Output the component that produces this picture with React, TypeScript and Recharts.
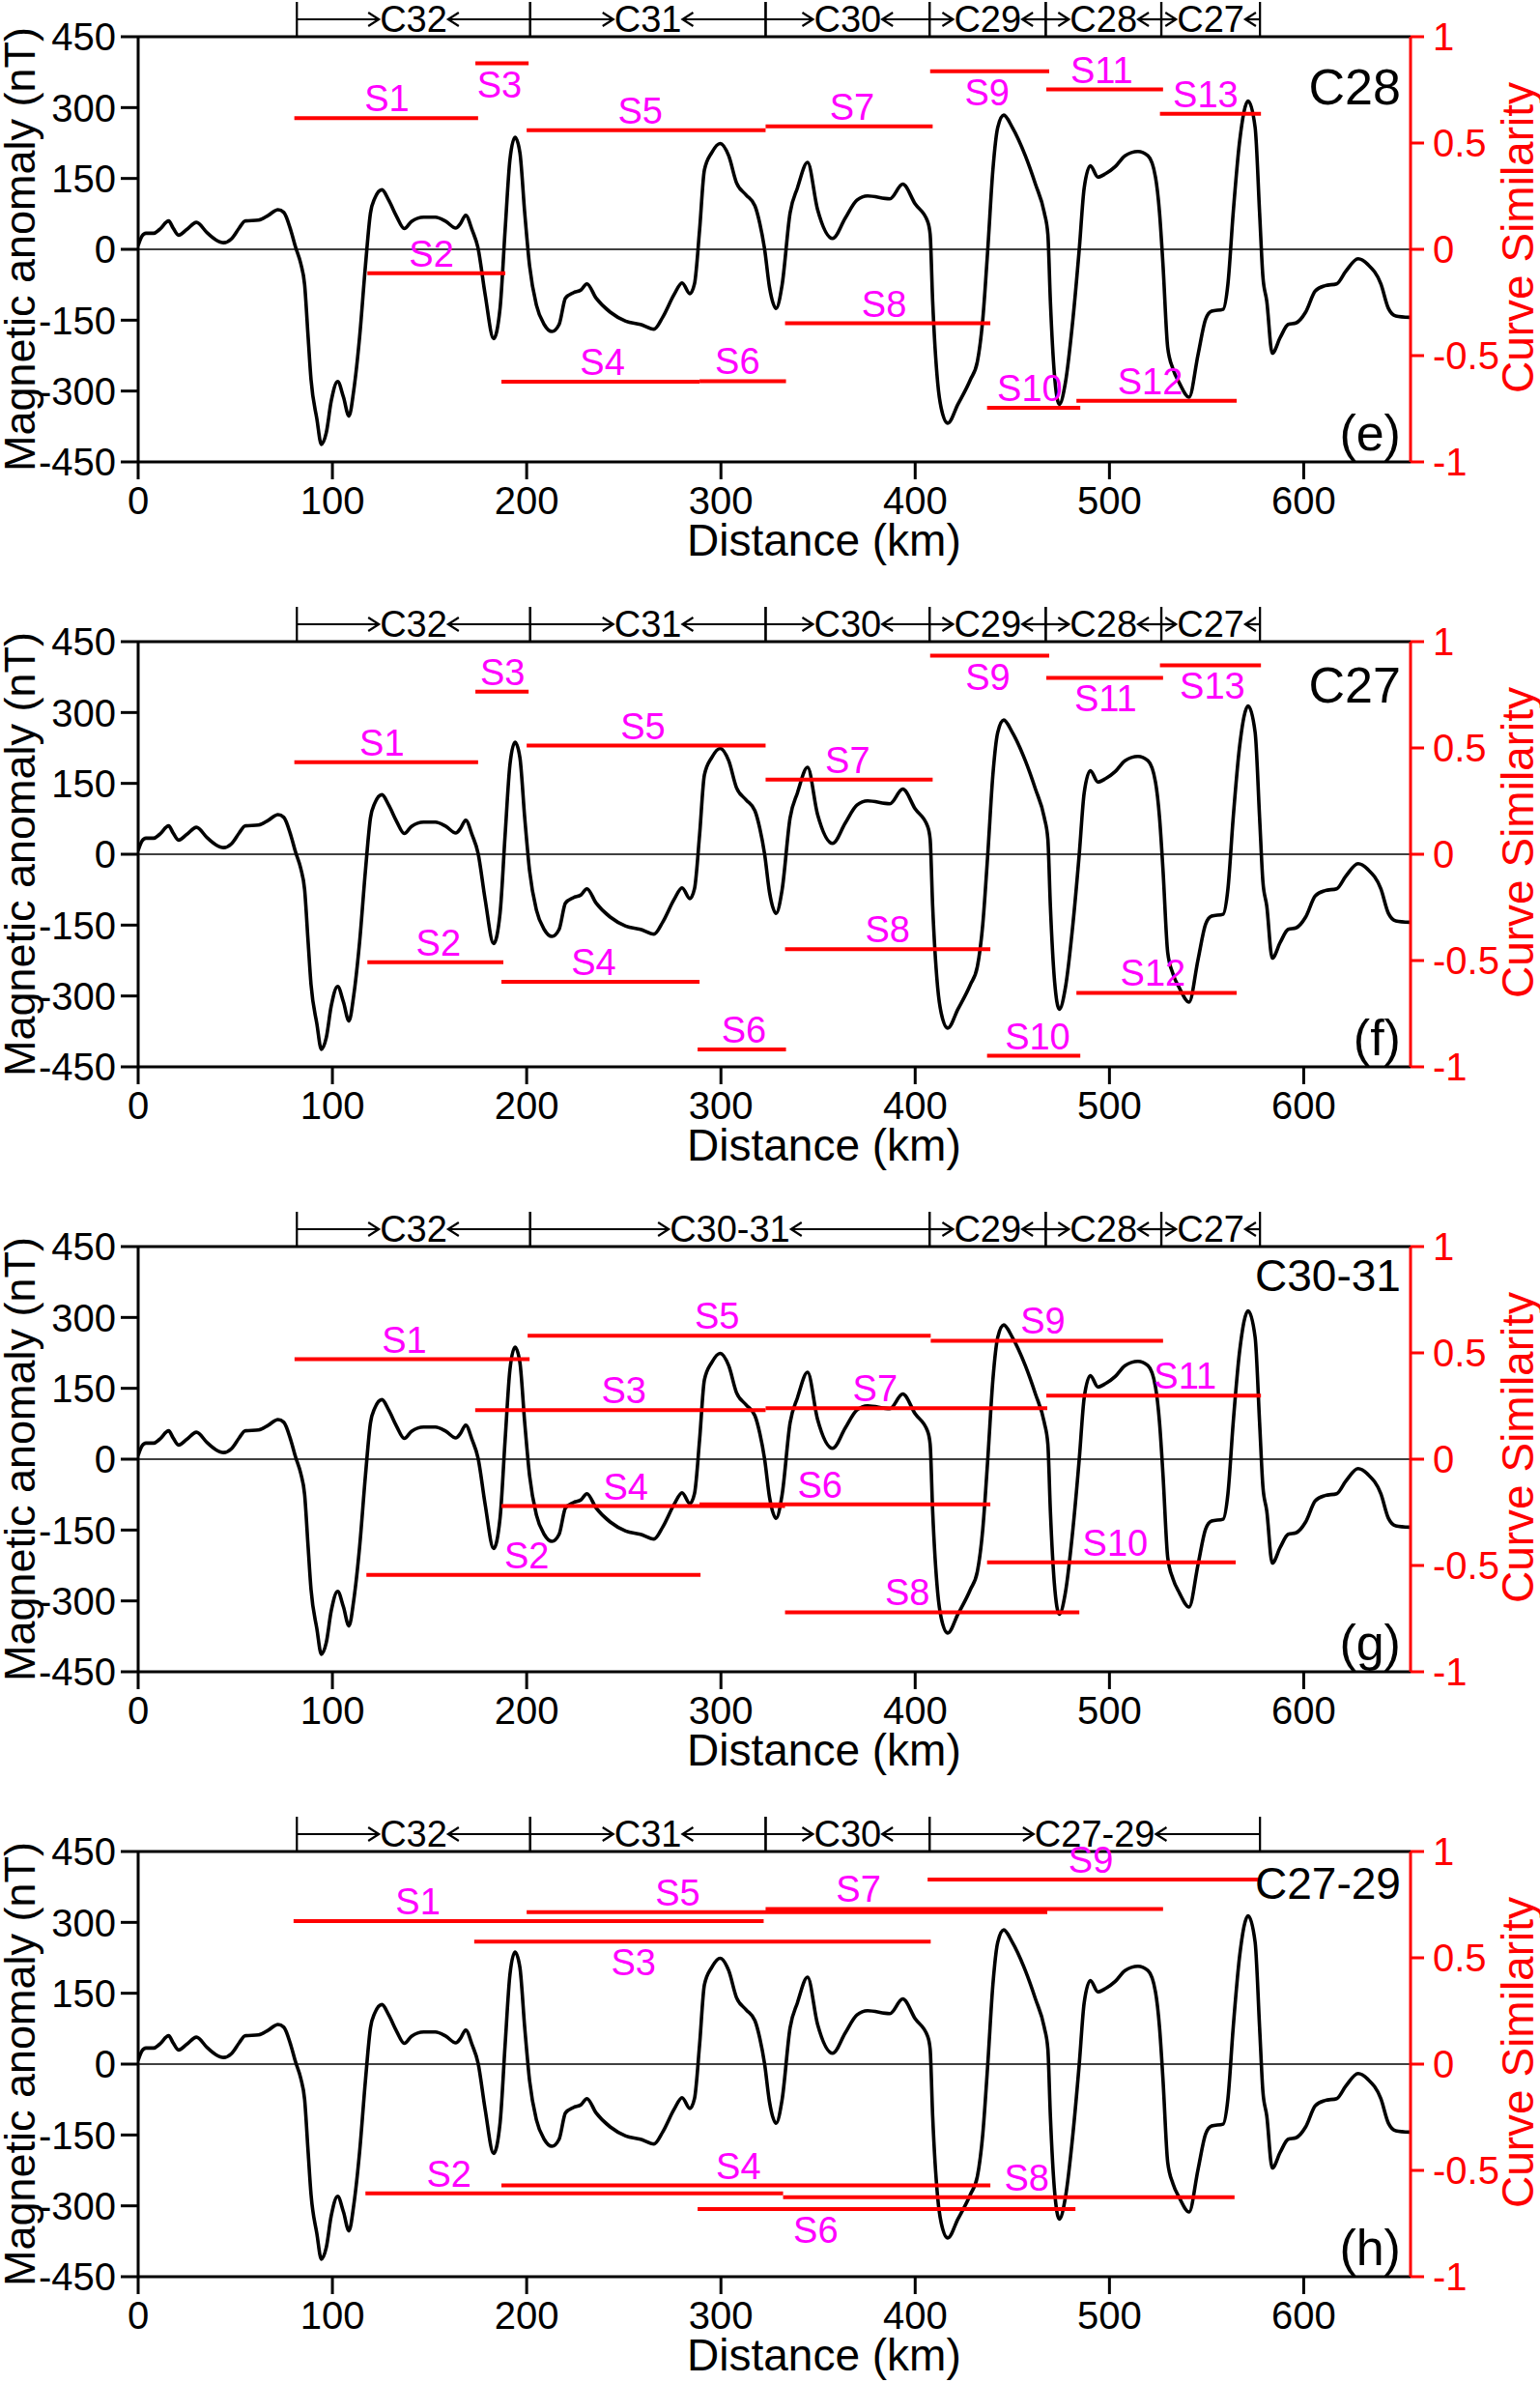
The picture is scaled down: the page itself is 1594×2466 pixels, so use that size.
import React from 'react';
import { ComposedChart, Line, XAxis, YAxis, ReferenceLine, ReferenceDot, Label } from 'recharts';

const FONT = '"Liberation Sans", Arial, Helvetica, sans-serif';

// Magnetic anomaly profile: [distance km, anomaly nT]
const anomalyProfile: [number, number][] = [
  [0, 8], [2, 28], [4, 34], [8, 34], [11, 42], [15.7, 60], [18, 45], [20.8, 30], [25, 42], [30, 57],
  [35.5, 35], [40, 20], [44, 14], [48, 22], [52, 45], [55, 60], [62, 62], [67, 72], [72, 84], [75, 78],
  [78.6, 40], [81, 5], [83.7, -30], [85.7, -75], [87.5, -186], [89, -276], [92, -359], [94.3, -413],
  [96.8, -389], [99.4, -321], [102.7, -280], [105.7, -313], [108.5, -353], [111, -298], [114, -186],
  [117, -35], [119.6, 77], [121.7, 107], [125.5, 126], [129, 104], [133, 70], [137, 44], [140.7, 59],
  [147, 68], [153, 68], [158.4, 59], [163.5, 45], [166, 55], [168.6, 72], [172, 40], [175, 2],
  [178.6, -95], [183, -189], [186.3, -125], [188.9, 40], [191.4, 190], [194, 237], [196.5, 205],
  [199, 77], [201.5, -35], [205, -118], [209, -159], [213, -174], [216.7, -159], [220, -103],
  [224, -92], [228, -86], [231, -73], [235.7, -103], [243, -133], [251, -152], [258.6, -159],
  [265.6, -169], [270, -144], [276, -95], [280, -71], [284, -94], [286.4, -73], [289, 40],
  [291.5, 168], [295.3, 205], [299.6, 224], [304, 198], [308, 141], [313, 115], [317.5, 92],
  [320, 55], [322.5, 0], [325, -80], [328.4, -125], [331.5, -75], [335.6, 77], [339.4, 130],
  [344.6, 184], [349.7, 85], [357.5, 23], [364, 66], [370, 104], [375.5, 113], [387, 107],
  [393.6, 138], [400, 96], [406.4, 59], [407.7, 32], [409, -110], [411.6, -283], [413.4, -336],
  [416.8, -368], [422, -328], [428.4, -276], [432, -238], [434.8, -148], [437.4, 2], [440, 168],
  [442.5, 258], [445.6, 284], [450, 258], [456.7, 198], [461.9, 138], [466.5, 77], [468.3, 32],
  [469.6, -110], [471.6, -261], [474.2, -328], [477.3, -283], [481.2, -148], [484.5, 2], [487, 130],
  [490.2, 177], [494, 153], [498, 160], [503, 175], [508, 198], [514.7, 207], [519.8, 198],
  [523.7, 153], [525.8, 77], [527.6, -35], [530, -208], [532.7, -253], [536, -283], [541, -313],
  [545.6, -223], [549.5, -148], [552.6, -131], [558.5, -127], [561, -73], [563.7, 77], [567, 228],
  [571.4, 314], [575, 258], [577.3, 77], [579, -58], [581, -110], [583.8, -220], [588, -186],
  [592, -159], [596, -156], [601, -133], [606, -88], [611, -77], [617, -73], [621.6, -47], [628, -20],
  [633, -32], [639.7, -73], [643.6, -125], [647.4, -141], [654.6, -144],
];

const xTicks = [0, 100, 200, 300, 400, 500, 600];
const leftTicks = [-450, -300, -150, 0, 150, 300, 450];
const rightTicks = [-1, -0.5, 0, 0.5, 1];

type Seg = { name: string; from: number; to: number; sim: number; labelKm: number; below?: boolean };
type Chron = { name: string; from: number; to: number };

// Panel (e) template C28
const segE: Seg[] = [
  { name: 'S1', from: 80.4, to: 175, sim: 0.617, labelKm: 128 },
  { name: 'S2', from: 118, to: 189, sim: -0.112, labelKm: 151 },
  { name: 'S3', from: 173.6, to: 201, sim: 0.875, labelKm: 186, below: true },
  { name: 'S4', from: 187, to: 289, sim: -0.623, labelKm: 239 },
  { name: 'S5', from: 200, to: 323, sim: 0.56, labelKm: 258.5 },
  { name: 'S6', from: 289, to: 333.5, sim: -0.62, labelKm: 308.5 },
  { name: 'S7', from: 323, to: 409, sim: 0.578, labelKm: 367.5 },
  { name: 'S8', from: 333, to: 438.7, sim: -0.348, labelKm: 384 },
  { name: 'S9', from: 407.7, to: 469, sim: 0.838, labelKm: 437, below: true },
  { name: 'S10', from: 437, to: 485, sim: -0.745, labelKm: 459 },
  { name: 'S11', from: 467.5, to: 527.6, sim: 0.752, labelKm: 496 },
  { name: 'S12', from: 483, to: 565.5, sim: -0.712, labelKm: 521 },
  { name: 'S13', from: 526, to: 578, sim: 0.638, labelKm: 549.5 },
];

// Panel (f) template C27
const segF: Seg[] = [
  { name: 'S1', from: 80.4, to: 175, sim: 0.433, labelKm: 125.5 },
  { name: 'S2', from: 118, to: 188, sim: -0.508, labelKm: 154.6 },
  { name: 'S3', from: 173.6, to: 201, sim: 0.765, labelKm: 187.6 },
  { name: 'S4', from: 187, to: 289, sim: -0.6, labelKm: 234.5 },
  { name: 'S5', from: 200, to: 323, sim: 0.511, labelKm: 259.8 },
  { name: 'S6', from: 288, to: 333.5, sim: -0.918, labelKm: 311.8 },
  { name: 'S7', from: 323, to: 409, sim: 0.351, labelKm: 365.2 },
  { name: 'S8', from: 333, to: 438.7, sim: -0.447, labelKm: 385.8 },
  { name: 'S9', from: 407.7, to: 469, sim: 0.934, labelKm: 437.4, below: true },
  { name: 'S10', from: 437, to: 485, sim: -0.948, labelKm: 463 },
  { name: 'S11', from: 467.5, to: 527.6, sim: 0.83, labelKm: 498, below: true },
  { name: 'S12', from: 483, to: 565.5, sim: -0.652, labelKm: 522.4 },
  { name: 'S13', from: 526, to: 578, sim: 0.889, labelKm: 553, below: true },
];

// Panel (g) template C30-31
const segG: Seg[] = [
  { name: 'S1', from: 80.5, to: 201.5, sim: 0.47, labelKm: 137 },
  { name: 'S2', from: 117.5, to: 289.5, sim: -0.544, labelKm: 200 },
  { name: 'S3', from: 173.5, to: 323, sim: 0.231, labelKm: 250 },
  { name: 'S4', from: 187, to: 333, sim: -0.221, labelKm: 251 },
  { name: 'S5', from: 200.5, to: 408, sim: 0.581, labelKm: 298 },
  { name: 'S6', from: 289, to: 438.7, sim: -0.213, labelKm: 351 },
  { name: 'S7', from: 323, to: 468, sim: 0.24, labelKm: 379.4 },
  { name: 'S8', from: 333, to: 484.5, sim: -0.72, labelKm: 396 },
  { name: 'S9', from: 408, to: 527.6, sim: 0.557, labelKm: 465.7 },
  { name: 'S10', from: 437, to: 565, sim: -0.485, labelKm: 503 },
  { name: 'S11', from: 467.5, to: 578, sim: 0.299, labelKm: 539 },
];

// Panel (h) template C27-29
const segH: Seg[] = [
  { name: 'S1', from: 80, to: 322, sim: 0.673, labelKm: 144 },
  { name: 'S2', from: 117, to: 332, sim: -0.608, labelKm: 160 },
  { name: 'S3', from: 173, to: 408, sim: 0.576, labelKm: 255, below: true },
  { name: 'S4', from: 187, to: 438.7, sim: -0.571, labelKm: 309 },
  { name: 'S5', from: 200, to: 468, sim: 0.715, labelKm: 277.7 },
  { name: 'S6', from: 288, to: 482.5, sim: -0.682, labelKm: 348.8, below: true },
  { name: 'S7', from: 323, to: 527.6, sim: 0.73, labelKm: 370.8 },
  { name: 'S8', from: 332, to: 564.4, sim: -0.626, labelKm: 457.4 },
  { name: 'S9', from: 406.4, to: 577.3, sim: 0.868, labelKm: 490.4 },
];

const chronEF: Chron[] = [
  { name: 'C32', from: 81.7, to: 201.8 },
  { name: 'C31', from: 201.8, to: 323 },
  { name: 'C30', from: 323, to: 407.4 },
  { name: 'C29', from: 407.4, to: 467.2 },
  { name: 'C28', from: 467.2, to: 526.7 },
  { name: 'C27', from: 526.7, to: 577.5 },
];
const chronG: Chron[] = [
  { name: 'C32', from: 81.7, to: 201.8 },
  { name: 'C30-31', from: 201.8, to: 407.4 },
  { name: 'C29', from: 407.4, to: 467.2 },
  { name: 'C28', from: 467.2, to: 526.7 },
  { name: 'C27', from: 526.7, to: 577.5 },
];
const chronH: Chron[] = [
  { name: 'C32', from: 81.7, to: 201.8 },
  { name: 'C31', from: 201.8, to: 323 },
  { name: 'C30', from: 323, to: 407.4 },
  { name: 'C27-29', from: 407.4, to: 577.5 },
];

const curveData = anomalyProfile.map(([km, nT]) => ({ km, nT, simRef: 0 }));

const CHAR_W: Record<string, number> = { C: 0.722, '-': 0.333 };
const textWidth = (s: string, f: number) =>
  s.split('').reduce((a, c) => a + (CHAR_W[c] ?? 0.556), 0) * f;

const CHRON_FONT = 38;
const TICK_FONT = 40;
const S_FONT = 38;

function chronShape(name: string) {
  return (p: any) => {
    const { x1, x2, y1 } = p;
    const y = y1 - 18;
    const cx = (x1 + x2) / 2;
    const w = textWidth(name, CHRON_FONT);
    const l = cx - w / 2 - 1;
    const r = cx + w / 2 + 1;
    const st = { stroke: '#000', strokeWidth: 2.2, fill: 'none' };
    return (
      <g>
        <line x1={x1} y1={y1 - 36} x2={x1} y2={y1} {...st} />
        <line x1={x2} y1={y1 - 36} x2={x2} y2={y1} {...st} />
        <line x1={x1} y1={y} x2={l} y2={y} {...st} />
        <polyline points={`${l - 11},${y - 7} ${l},${y} ${l - 11},${y + 7}`} {...st} />
        <line x1={r} y1={y} x2={x2} y2={y} {...st} />
        <polyline points={`${r + 11},${y - 7} ${r},${y} ${r + 11},${y + 7}`} {...st} />
        <text x={cx} y={y + 13} textAnchor="middle" fontSize={CHRON_FONT} fontFamily={FONT} fill="#000">
          {name}
        </text>
      </g>
    );
  };
}

const xTitle = (props: any) => {
  const vb = props.viewBox || { x: 143, y: 478, width: 1317, height: 100 };
  return (
    <text x={vb.x + vb.width * 0.539} y={vb.y + 97} textAnchor="middle" fontSize={46} fontFamily={FONT} fill="#000">
      Distance (km)
    </text>
  );
};

const yTitleLeft = (props: any) => {
  const vb = props.viewBox || { x: 0, y: 38, width: 143, height: 440 };
  const cx = vb.x + 36;
  const cy = vb.y + vb.height / 2;
  return (
    <text x={cx} y={cy} transform={`rotate(-90 ${cx} ${cy})`} textAnchor="middle" fontSize={45} fontFamily={FONT} fill="#000">
      Magnetic anomaly (nT)
    </text>
  );
};

const yTitleRight = (props: any) => {
  const vb = props.viewBox || { x: 1460, y: 38, width: 134, height: 440 };
  const cx = vb.x + 127;
  const cy = vb.y + vb.height / 2 - 12;
  return (
    <text x={cx} y={cy} transform={`rotate(-90 ${cx} ${cy})`} textAnchor="middle" fontSize={46} fontFamily={FONT} fill="#ff0000">
      Curve Similarity
    </text>
  );
};

type PanelProps = {
  segs: Seg[];
  chrons: Chron[];
  tag: string;
  tagNT: number;
  tagFont: number;
  letter: string;
};

function Panel({ segs, chrons, tag, tagNT, tagFont, letter }: PanelProps) {
  return (
    <ComposedChart
      width={1594}
      height={626}
      data={curveData}
      margin={{ top: 38, right: 0, bottom: 48, left: 0 }}
    >
      <XAxis
        dataKey="km"
        type="number"
        domain={[0, 655]}
        allowDataOverflow
        ticks={xTicks}
        interval={0}
        height={100}
        tickSize={18}
        tickMargin={8}
        axisLine={{ stroke: '#000', strokeWidth: 3 }}
        tickLine={{ stroke: '#000', strokeWidth: 3 }}
        tick={{ fill: '#000', fontSize: TICK_FONT, fontFamily: FONT }}
      >
        <Label content={xTitle} />
      </XAxis>
      <YAxis
        yAxisId="left"
        type="number"
        domain={[-450, 450]}
        allowDataOverflow
        ticks={leftTicks}
        interval={0}
        width={143}
        tickSize={18}
        tickMargin={5}
        axisLine={{ stroke: '#000', strokeWidth: 3 }}
        tickLine={{ stroke: '#000', strokeWidth: 3 }}
        tick={{ fill: '#000', fontSize: TICK_FONT, fontFamily: FONT }}
      >
        <Label content={yTitleLeft} />
      </YAxis>
      <YAxis
        yAxisId="right"
        orientation="right"
        type="number"
        domain={[-1, 1]}
        allowDataOverflow
        ticks={rightTicks}
        interval={0}
        width={134}
        tickSize={14}
        tickMargin={9}
        tickFormatter={(v: number) => String(v)}
        axisLine={{ stroke: '#ff0000', strokeWidth: 3 }}
        tickLine={{ stroke: '#ff0000', strokeWidth: 3 }}
        tick={{ fill: '#ff0000', fontSize: TICK_FONT, fontFamily: FONT }}
      >
        <Label content={yTitleRight} />
      </YAxis>
      <ReferenceLine yAxisId="left" y={0} stroke="#000" strokeWidth={1.5} />
      <ReferenceLine yAxisId="left" y={450} stroke="#000" strokeWidth={3} />
      <Line
        yAxisId="right"
        type="linear"
        dataKey="simRef"
        stroke="transparent"
        strokeWidth={0}
        dot={false}
        activeDot={false}
        isAnimationActive={false}
      />
      <Line
        yAxisId="left"
        type="monotone"
        dataKey="nT"
        stroke="#000"
        strokeWidth={3.6}
        dot={false}
        activeDot={false}
        isAnimationActive={false}
      />
      {segs.map((s) => (
        <ReferenceLine
          key={'seg' + s.name}
          yAxisId="right"
          segment={[{ x: s.from, y: s.sim }, { x: s.to, y: s.sim }]}
          stroke="#ff0000"
          strokeWidth={4}
        />
      ))}
      {segs.map((s) => (
        <ReferenceDot
          key={'lab' + s.name}
          yAxisId="right"
          x={s.labelKm}
          y={s.sim}
          r={0}
          shape={(p: any) => (
            <text
              x={p.cx}
              y={s.below ? p.cy + 35 : p.cy - 7}
              textAnchor="middle"
              fill="#ff00ff"
              fontSize={S_FONT}
              fontFamily={FONT}
            >
              {s.name}
            </text>
          )}
        />
      ))}
      {chrons.map((c) => (
        <ReferenceLine
          key={'chron' + c.name}
          yAxisId="left"
          segment={[{ x: c.from, y: 450 }, { x: c.to, y: 450 }]}
          ifOverflow="visible"
          shape={chronShape(c.name)}
        />
      ))}
      <ReferenceDot
        yAxisId="left"
        x={650}
        y={tagNT}
        r={0}
        ifOverflow="visible"
        shape={(p: any) => (
          <text x={p.cx} y={p.cy} textAnchor="end" fill="#000" fontSize={tagFont} fontFamily={FONT}>
            {tag}
          </text>
        )}
      />
      <ReferenceDot
        yAxisId="left"
        x={650}
        y={-425}
        r={0}
        ifOverflow="visible"
        shape={(p: any) => (
          <text x={p.cx} y={p.cy} textAnchor="end" fill="#000" fontSize={52} fontFamily={FONT}>
            {letter}
          </text>
        )}
      />
    </ComposedChart>
  );
}

export default function App() {
  return (
    <div
      style={{
        position: 'absolute',
        left: 0,
        top: 0,
        width: 1594,
        height: 2466,
        background: '#fff',
        fontFamily: FONT,
      }}
    >
      <Panel segs={segE} chrons={chronEF} tag="C28" tagNT={307} tagFont={52} letter="(e)" />
      <Panel segs={segF} chrons={chronEF} tag="C27" tagNT={321} tagFont={52} letter="(f)" />
      <Panel segs={segG} chrons={chronG} tag="C30-31" tagNT={355} tagFont={46} letter="(g)" />
      <Panel segs={segH} chrons={chronH} tag="C27-29" tagNT={350} tagFont={46} letter="(h)" />
    </div>
  );
}
